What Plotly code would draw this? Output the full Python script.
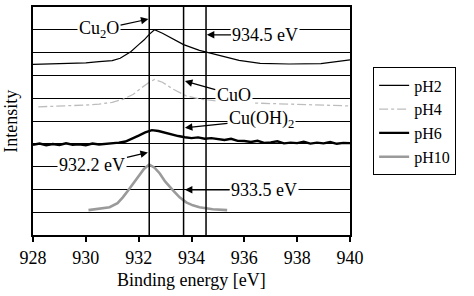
import plotly.graph_objects as go

# ---- data ----
x_ph2 = [928.0, 929.0, 930.0, 930.5, 931.0, 931.3, 931.7, 932.0, 932.2, 932.4, 932.6, 932.9, 933.2, 933.7,
         934.3, 935.1, 935.8, 936.6, 937.7, 938.9, 940.0]
y_ph2 = [7.48, 7.50, 7.55, 7.60, 7.65, 7.75, 8.04, 8.35, 8.55, 8.80, 9.00, 8.85, 8.65, 8.35,
         8.10, 7.87, 7.66, 7.53, 7.50, 7.52, 7.68]

x_ph4 = [928.2, 929.0, 930.0, 930.5, 931.0, 931.4, 931.8, 932.1, 932.4, 932.6, 932.9, 933.3, 933.8,
         934.4, 935.0, 936.0, 937.0, 938.0, 939.0, 940.0]
y_ph4 = [5.62, 5.65, 5.70, 5.74, 5.82, 5.95, 6.17, 6.45, 6.70, 6.82, 6.70, 6.40, 6.10,
         5.95, 5.87, 5.80, 5.76, 5.72, 5.70, 5.66]

x_ph6 = [928.0, 928.25, 928.5, 928.75, 929.0, 929.25, 929.5, 929.75, 930.0, 930.25, 930.5, 930.75,
         931.0, 931.25, 931.5, 931.75, 932.0, 932.25, 932.5, 932.75, 933.0, 933.25, 933.5, 933.75,
         934.0, 934.25, 934.5, 934.75, 935.0, 935.25, 935.5, 935.75, 936.0, 936.25, 936.5, 936.75,
         937.0, 937.25, 937.5, 937.75, 938.0, 938.25, 938.5, 938.75, 939.0, 939.25, 939.5, 939.75, 940.0]
y_ph6 = [3.96, 4.01, 3.94, 3.99, 3.95, 4.02, 3.96, 3.98, 3.94, 4.01, 3.97, 3.99,
         4.00, 4.05, 4.10, 4.22, 4.36, 4.50, 4.60, 4.56, 4.48, 4.40, 4.34, 4.29,
         4.25, 4.28, 4.22, 4.25, 4.20, 4.17, 4.22, 4.13, 4.12, 4.08, 4.13, 4.04,
         4.06, 4.11, 4.02, 4.05, 4.03, 4.09, 4.01, 4.05, 4.02, 4.08, 4.00, 4.04, 4.03]

x_ph10 = [930.1, 930.5, 930.9, 931.2, 931.4, 931.6, 931.8, 932.0, 932.2, 932.4, 932.6, 932.8,
          933.0, 933.3, 933.55, 933.8, 934.05, 934.3, 934.8, 935.35]
y_ph10 = [1.09, 1.15, 1.22, 1.40, 1.65, 1.95, 2.26, 2.60, 2.90, 3.09, 2.95, 2.70,
          2.35, 1.96, 1.65, 1.43, 1.30, 1.22, 1.13, 1.09]

ref_lines = [932.4, 933.7, 934.55]
x_ticks = [928, 930, 932, 934, 936, 938, 940]

# labels: (text, head_x, head_y, text_x, text_y)
labels = [
    ("Cu<sub>2</sub>O", 932.37, 9.47, 930.5, 9.0),
    ("934.5 eV", 934.58, 8.78, 936.8, 8.78),
    ("CuO", 933.75, 6.75, 935.6, 6.15),
    ("Cu(OH)<sub>2</sub>", 933.75, 4.70, 936.65, 5.05),
    ("932.2 eV", 932.35, 3.62, 930.25, 3.05),
    ("933.5 eV", 933.75, 1.98, 936.75, 1.98),
]

FONT = "Liberation Serif"

fig = go.Figure()
fig.add_trace(go.Scatter(x=x_ph2, y=y_ph2, mode="lines", name="pH2",
                         line=dict(color="black", width=1.2)))
fig.add_trace(go.Scatter(x=x_ph4, y=y_ph4, mode="lines", name="pH4",
                         line=dict(color="#bdbdbd", width=1.3, dash="dashdot")))
fig.add_trace(go.Scatter(x=x_ph6, y=y_ph6, mode="lines", name="pH6",
                         line=dict(color="black", width=2.4)))
fig.add_trace(go.Scatter(x=x_ph10, y=y_ph10, mode="lines", name="pH10",
                         line=dict(color="#9a9a9a", width=2.6)))

for xv in ref_lines:
    fig.add_shape(type="line", x0=xv, x1=xv, y0=0, y1=10, xref="x", yref="y",
                  line=dict(color="black", width=1.5), layer="above")

for text, hx, hy, tx, ty in labels:
    fig.add_annotation(text=text, x=hx, y=hy, ax=tx, ay=ty, axref="x", ayref="y",
                       xref="x", yref="y", showarrow=True, arrowhead=2, arrowsize=1.25,
                       arrowwidth=1.2, arrowcolor="black", standoff=0,
                       bgcolor="white", borderpad=1,
                       font=dict(family=FONT, size=18, color="black"))

fig.add_annotation(text="Binding energy [eV]", x=0.5, y=-0.196, xref="paper", yref="paper",
                   showarrow=False, xanchor="center", yanchor="middle",
                   font=dict(family=FONT, size=18, color="black"))
fig.add_annotation(text="Intensity", x=-0.07, y=0.5, xref="paper", yref="paper",
                   showarrow=False, xanchor="center", yanchor="middle", textangle=-90,
                   font=dict(family=FONT, size=18, color="black"))

fig.update_layout(
    width=474, height=296,
    margin=dict(l=33, r=124, t=5, b=61),
    paper_bgcolor="white", plot_bgcolor="white",
    font=dict(family=FONT, size=18, color="black"),
    showlegend=True,
    legend=dict(x=1.073, y=0.735, xanchor="left", yanchor="top",
                bordercolor="black", borderwidth=1, bgcolor="white",
                font=dict(family=FONT, size=16, color="black"),
                tracegroupgap=0, itemwidth=30),
    xaxis=dict(range=[928, 940], tickvals=x_ticks, ticks="outside", ticklen=5,
               tickwidth=1.5, tickcolor="black", showline=True, linecolor="black",
               linewidth=2, mirror=True, showgrid=False, zeroline=False,
               tickfont=dict(family=FONT, size=18, color="black")),
    yaxis=dict(range=[0, 10], dtick=1, showgrid=True, gridcolor="black", gridwidth=1.4,
               showticklabels=False, ticks="", showline=True, linecolor="black",
               linewidth=2, mirror=True, zeroline=False),
)

fig.write_html("out.html")
